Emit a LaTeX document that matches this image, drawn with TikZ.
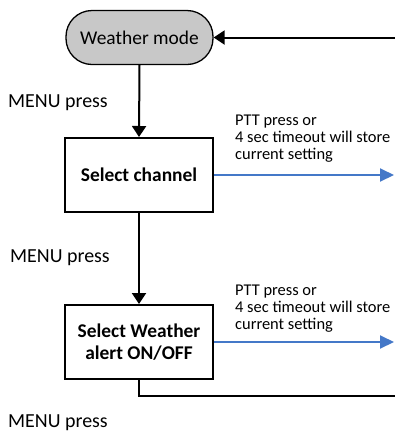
\documentclass[tikz,border=0pt]{standalone}
\usepackage{fontspec}
\setmainfont{Carlito}
\usetikzlibrary{arrows.meta}
\definecolor{flowblue}{RGB}{68,120,200}
\definecolor{modegray}{RGB}{200,200,200}
\begin{document}
\begin{tikzpicture}[x=1bp,y=-1bp,
  boxstyle/.style={draw=black,line width=2bp,minimum width=148bp,minimum height=74bp,inner sep=0pt,align=center,font=\fontsize{19.5}{23}\selectfont\bfseries},
  modestyle/.style={draw=black,fill=modegray,line width=1.3bp,rounded corners=26bp,minimum width=147bp,minimum height=54bp,inner sep=0pt,font=\fontsize{19.5}{22}\selectfont},
  flowline/.style={line width=2bp,-{Triangle[length=11bp,width=14bp]}},
  blueline/.style={draw=flowblue,line width=2bp,-{Triangle[length=14bp,width=13bp]}},
  menulabel/.style={anchor=base west,inner sep=0pt,font=\fontsize{20}{23}\selectfont},
  pttlabel/.style={anchor=base west,inner sep=0pt,font=\fontsize{16.5}{17}\selectfont}]
\useasboundingbox (0,0) rectangle (395,431);
\node[modestyle] (weather) at (139.5,37.5) {Weather mode};
\node[boxstyle] (chan) at (139,175) {Select channel};
\node[boxstyle] (alert) at (139,342) {Select Weather\\[-1bp]alert ON/OFF};
\coordinate (backin) at (396,37.5);
\coordinate (backout) at (396,396);
\coordinate (out1) at (394,175);
\coordinate (out2) at (394,342);
\draw[flowline] (weather.south) -- (chan.north);
\draw[flowline] (chan.south) -- (alert.north);
\draw[line width=2bp] (alert.south) |- (backout);
\draw[flowline] (backin) -- (weather.east);
\draw[blueline] (chan.east) -- (out1);
\draw[blueline] (alert.east) -- (out2);
\node[menulabel] (m1) at (8,107) {MENU press};
\node[menulabel] (m2) at (10,262) {MENU press};
\node[menulabel] (m3) at (8,427) {MENU press};
\node[pttlabel] (p1a) at (235,125) {PTT press or};
\node[pttlabel] (p1b) at (235,142) {4 sec timeout will store};
\node[pttlabel] (p1c) at (235,159) {current setting};
\node[pttlabel] (p2a) at (235,295) {PTT press or};
\node[pttlabel] (p2b) at (235,312) {4 sec timeout will store};
\node[pttlabel] (p2c) at (235,329) {current setting};
\end{tikzpicture}
\end{document}
